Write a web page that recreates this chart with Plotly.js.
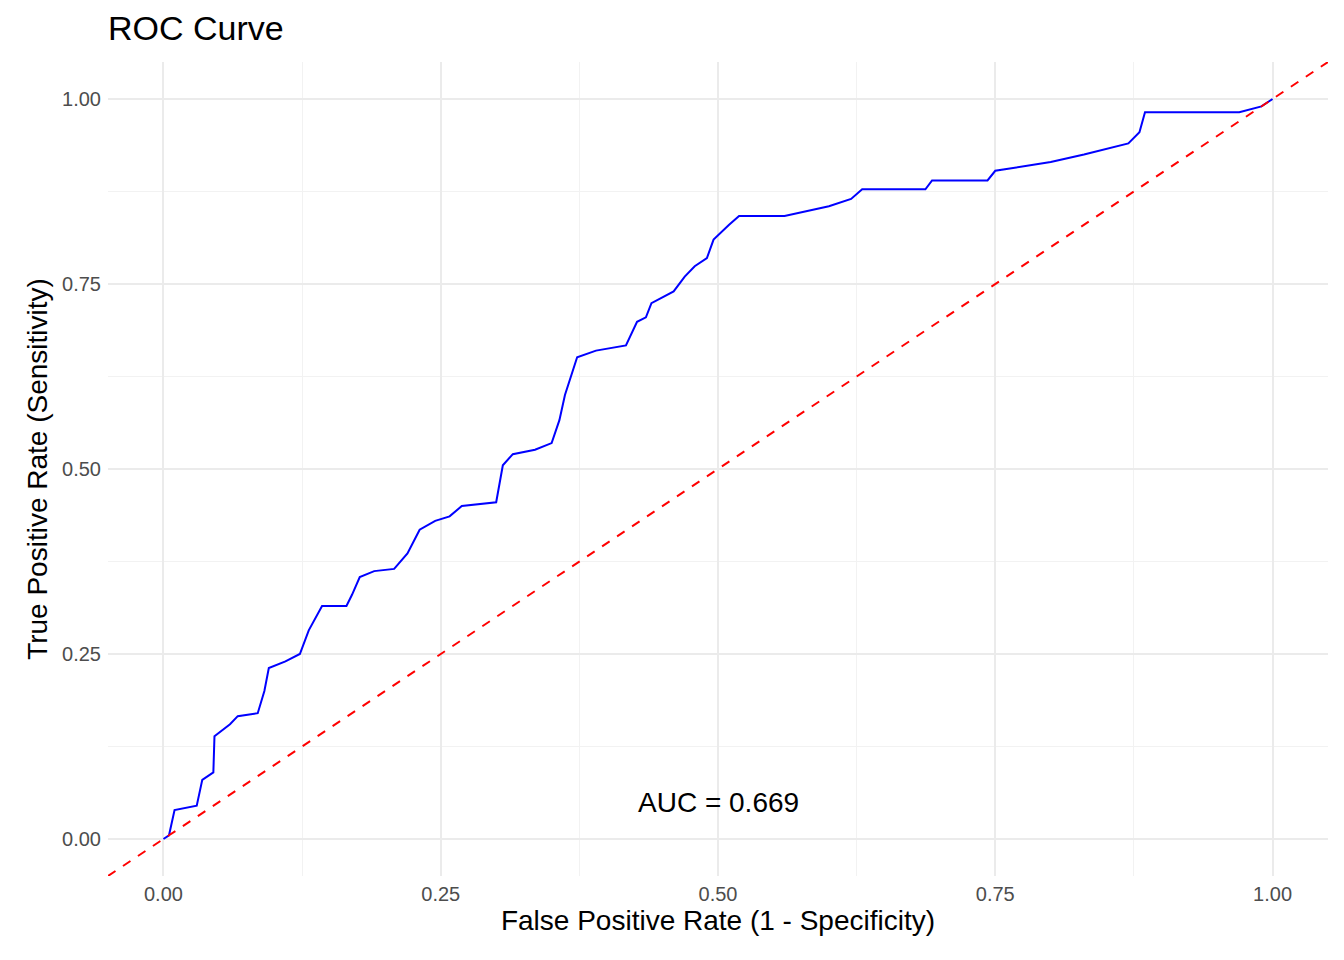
<!DOCTYPE html>
<html>
<head>
<meta charset="utf-8">
<script src="https://cdn.plot.ly/plotly-3.0.1.min.js"></script>
<style>body{margin:0;background:#fff}</style>
</head>
<body>
<div id="graph" style="width:1344px;height:960px"></div>
<script>
// ROC points
const fpr = [0, 0.005, 0.01, 0.02, 0.03, 0.035, 0.045, 0.046, 0.06, 0.067, 0.085, 0.091, 0.095, 0.11, 0.123,
  0.131, 0.143, 0.165, 0.17, 0.177, 0.19, 0.208, 0.22, 0.231, 0.245, 0.258, 0.269, 0.3, 0.306, 0.315,
  0.335, 0.35, 0.357, 0.362, 0.373, 0.39, 0.417, 0.427, 0.435, 0.44, 0.46, 0.47, 0.479, 0.49, 0.496,
  0.51, 0.519, 0.56, 0.6, 0.62, 0.63, 0.687, 0.693, 0.743, 0.75, 0.8, 0.83, 0.87, 0.88, 0.885, 0.97, 0.99, 1]
const tpr = [0, 0.005, 0.039, 0.042, 0.045, 0.08, 0.09, 0.139, 0.155, 0.166, 0.17, 0.2, 0.231, 0.24, 0.25,
  0.282, 0.315, 0.315, 0.33, 0.354, 0.362, 0.365, 0.386, 0.418, 0.43, 0.436, 0.45, 0.455, 0.505, 0.52,
  0.526, 0.535, 0.566, 0.6, 0.651, 0.66, 0.667, 0.699, 0.705, 0.724, 0.74, 0.76, 0.774, 0.785, 0.81,
  0.83, 0.842, 0.842, 0.855, 0.865, 0.878, 0.878, 0.89, 0.89, 0.903, 0.915, 0.925, 0.94, 0.955, 0.982, 0.982, 0.99, 1]
const diag = [-0.05, 1.05]
const aucText = 'AUC = 0.669'

const gridColor = '#ebebeb'
const axisBase = {
  range: [-0.05, 1.05],
  tickvals: [0, 0.25, 0.5, 0.75, 1],
  ticktext: ['0.00', '0.25', '0.50', '0.75', '1.00'],
  showgrid: true, gridcolor: gridColor, gridwidth: 2,
  zeroline: false, showline: false, ticks: '',
  tickfont: {size: 20, color: '#4d4d4d'},
  minor: {tickvals: [0.125, 0.375, 0.625, 0.875], showgrid: true, gridcolor: '#f2f2f2', gridwidth: 1},
}

Plotly.newPlot('graph', [
  {x: fpr, y: tpr, type: 'scatter', mode: 'lines', line: {color: 'blue', width: 2}},
  {x: diag, y: diag, type: 'scatter', mode: 'lines', line: {color: 'red', width: 2, dash: 'dash'}},
], {
  width: 1344, height: 960,
  margin: {l: 108, r: 16, t: 62, b: 84},
  font: {family: 'Liberation Sans, Arial, sans-serif', color: '#000'},
  paper_bgcolor: '#fff', plot_bgcolor: '#fff',
  showlegend: false,
  title: {text: 'ROC Curve', x: 108 / 1344, xanchor: 'left', y: 1 - 28 / 960, yanchor: 'middle', font: {size: 34}},
  xaxis: Object.assign({}, axisBase, {
    ticklabelstandoff: 4,
    title: {text: 'False Positive Rate (1 - Specificity)', font: {size: 28}, standoff: 6}}),
  yaxis: Object.assign({}, axisBase, {
    ticklabelstandoff: 6,
    title: {text: 'True Positive Rate (Sensitivity)', font: {size: 28}, standoff: 6}}),
  annotations: [{x: 0.5, y: 0.05, text: aucText, showarrow: false, font: {size: 28, color: '#000'}}],
}, {displayModeBar: false})
</script>
</body>
</html>
